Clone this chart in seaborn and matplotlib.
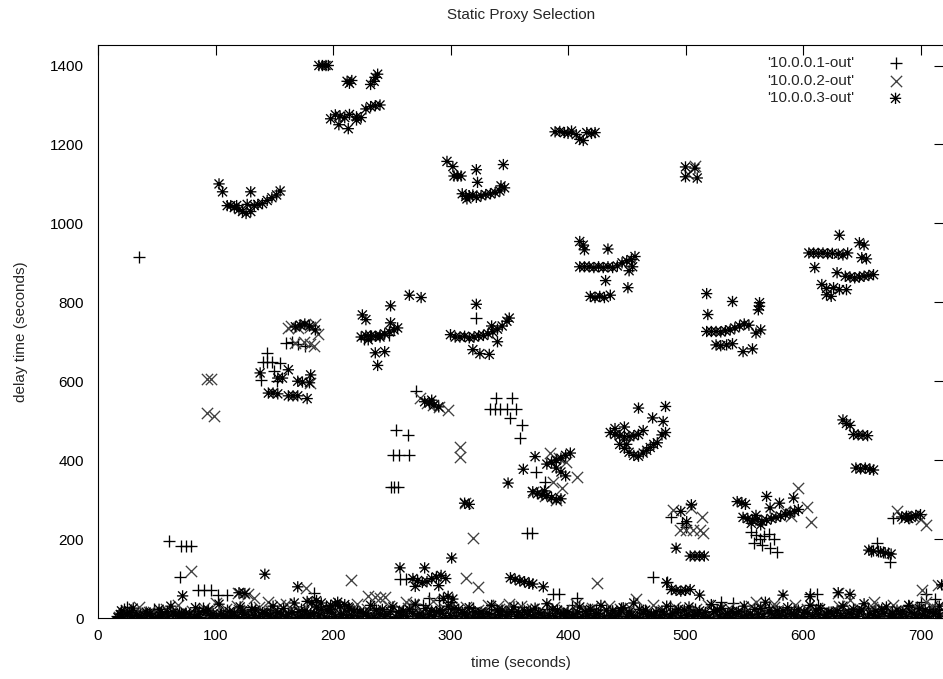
import matplotlib
matplotlib.use("Agg")
import matplotlib.pyplot as plt
import seaborn as sns
import pandas as pd
from matplotlib.path import Path

# ---------------- data (time [s], delay [s]) ----------------
series_names = ["'10.0.0.1-out'", "'10.0.0.2-out'", "'10.0.0.3-out'"]
x_ticks = [0, 100, 200, 300, 400, 500, 600, 700]
y_ticks = [0, 200, 400, 600, 800, 1000, 1200, 1400]

s1_points = [
    (35, 915),
    (144, 672), (140, 648), (144, 648), (148, 648), (155, 645), (139, 604), (150, 625), (152, 600),
    (160, 698), (165, 700), (170, 695), (176, 690),
    (226, 706), (232, 715), (248, 718),
    (254, 477), (264, 464), (251, 413), (256, 413), (265, 412), (249, 333), (252, 333), (255, 333),
    (271, 576), (322, 761),
    (339, 557), (352, 557), (334, 530), (338, 530), (342, 530), (348, 530), (356, 530), (351, 507), (361, 489), (359, 456),
    (373, 371), (388, 395), (380, 345), (365, 215), (369, 215),
    (488, 257), (497, 240), (500, 230),
    (556, 219), (560, 210), (563, 200), (567, 208), (571, 212), (575, 200), (558, 190), (565, 185), (572, 178), (578, 168),
    (677, 254), (663, 190), (658, 170), (664, 170), (668, 168), (672, 165), (674, 142),
    (60, 196), (71, 183), (75, 183), (79, 183), (70, 104), (85, 71), (90, 71), (96, 71), (102, 58), (110, 58),
    (25, 29), (22, 22), (28, 20), (184, 63), (257, 99), (262, 99), (282, 50), (290, 45), (300, 40),
    (387, 61), (392, 61), (408, 51), (472, 104), (484, 91), (530, 40), (540, 38), (606, 62), (612, 60),
    (700, 40), (705, 60), (712, 48), (690, 30), (715, 20),
]
s1_base = [
    (16, 4), (19, 12), (23, 2), (27, 6), (31, 1), (36, 9), (40, 3), (45, 5), (49, 2), (54, 14), (58, 4), (63, 7),
    (67, 1), (72, 10), (77, 3), (81, 6), (86, 18), (91, 2), (95, 8), (99, 4), (104, 11), (108, 1), (113, 6),
    (117, 3), (122, 15), (127, 5), (131, 2), (136, 8), (141, 4), (146, 20), (150, 1), (155, 7), (159, 3),
    (164, 12), (169, 5), (173, 2), (178, 9), (183, 4), (187, 16), (192, 1), (197, 6), (201, 3), (206, 10),
    (211, 2), (215, 7), (220, 24), (225, 4), (229, 1), (234, 8), (239, 3), (243, 13), (248, 5), (253, 2),
    (258, 9), (262, 4), (267, 17), (272, 1), (276, 6), (281, 3), (286, 11), (290, 5), (295, 2), (300, 28),
    (304, 4), (309, 7), (314, 1), (318, 12), (323, 3), (328, 6), (332, 2), (337, 9), (342, 4), (347, 15),
    (351, 1), (356, 5), (361, 3), (365, 10), (370, 2), (375, 7), (379, 4), (384, 13), (389, 1), (393, 6),
    (398, 3), (403, 9), (407, 5), (412, 2), (417, 18), (422, 4), (426, 1), (431, 8), (436, 3), (440, 12),
    (445, 5), (450, 2), (454, 7), (459, 4), (464, 14), (468, 1), (473, 6), (478, 3), (482, 10), (487, 5),
    (492, 2), (496, 8), (501, 4), (506, 16), (510, 1), (515, 6), (520, 3), (525, 11), (529, 5), (534, 2),
    (539, 9), (543, 4), (548, 20), (553, 1), (557, 7), (562, 3), (567, 12), (571, 5), (576, 2), (581, 9),
    (585, 4), (590, 15), (595, 1), (600, 6), (604, 3), (609, 10), (614, 2), (618, 7), (623, 4), (628, 13),
    (632, 1), (637, 6), (642, 3), (646, 9), (651, 5), (656, 2), (660, 17), (665, 4), (670, 1), (674, 8),
    (679, 3), (684, 12), (688, 5), (693, 2), (698, 9), (703, 4), (707, 22), (712, 1), (717, 6),
    (28, 16), (48, 22), (69, 18), (89, 26), (110, 20), (130, 28), (152, 18), (173, 24), (194, 30),
    (214, 20), (235, 26), (256, 18), (277, 32), (298, 22), (319, 26), (340, 18), (361, 28), (382, 22),
    (403, 34), (424, 20), (445, 26), (466, 18), (487, 30), (508, 22), (529, 26), (550, 18), (571, 28),
    (592, 22), (613, 34), (634, 20), (655, 26), (676, 18), (697, 28), (716, 22),
]

s2_points = [
    (93, 605), (96, 605), (93, 520), (99, 511),
    (164, 740), (170, 735), (175, 742), (180, 738), (185, 745), (187, 720), (162, 735),
    (175, 700), (180, 695), (184, 688), (168, 697), (180, 596),
    (274, 557), (280, 545), (285, 540), (290, 535), (298, 528),
    (308, 434), (308, 408), (312, 291), (319, 203), (313, 101), (323, 79),
    (385, 418), (392, 405), (398, 395), (408, 357), (370, 320), (380, 310), (390, 300), (395, 330), (387, 345),
    (489, 274), (505, 280), (495, 223), (500, 223), (506, 223), (512, 223), (515, 215), (514, 257),
    (502, 1125), (508, 1145),
    (596, 330), (603, 282), (607, 244), (585, 270), (590, 258),
    (680, 270), (705, 236), (686, 254), (694, 258), (700, 250),
    (715, 84), (701, 71), (630, 64),
    (79, 120), (119, 64), (124, 64), (128, 60), (177, 76), (215, 96), (244, 54), (425, 89), (458, 48),
    (230, 56), (236, 52), (240, 50), (133, 50), (145, 40), (160, 35), (262, 40), (268, 35), (340, 30),
    (350, 35), (420, 25), (560, 40), (575, 35), (640, 45), (660, 40), (700, 25), (710, 30),
]
s2_base = [
    (18, 2), (22, 7), (26, 3), (30, 10), (34, 1), (38, 5), (43, 14), (47, 2), (52, 6), (56, 3), (61, 9), (65, 1),
    (70, 12), (74, 4), (79, 7), (84, 2), (88, 16), (93, 5), (97, 1), (102, 8), (106, 3), (111, 11), (115, 4),
    (120, 20), (125, 2), (129, 6), (134, 1), (139, 9), (143, 3), (148, 13), (152, 5), (157, 2), (162, 8),
    (166, 4), (171, 18), (176, 1), (180, 6), (185, 3), (190, 10), (194, 2), (199, 7), (203, 4), (208, 15),
    (213, 1), (217, 5), (222, 3), (227, 9), (231, 2), (236, 12), (241, 4), (245, 7), (250, 1), (255, 10),
    (259, 3), (264, 25), (269, 5), (273, 2), (278, 8), (283, 4), (287, 14), (292, 1), (297, 6), (301, 3),
    (306, 11), (311, 2), (315, 7), (320, 4), (325, 16), (329, 1), (334, 5), (339, 3), (344, 9), (348, 2),
    (353, 13), (358, 4), (362, 6), (367, 1), (372, 10), (376, 3), (381, 7), (386, 5), (390, 19), (395, 2),
    (400, 8), (404, 4), (409, 12), (414, 1), (418, 6), (423, 3), (428, 9), (432, 5), (437, 2), (442, 14),
    (446, 4), (451, 7), (456, 1), (460, 11), (465, 3), (470, 6), (474, 2), (479, 16), (484, 5), (488, 1),
    (493, 8), (498, 4), (502, 12), (507, 2), (512, 7), (516, 3), (521, 10), (526, 5), (530, 1), (535, 15),
    (540, 4), (544, 6), (549, 2), (554, 9), (558, 3), (563, 13), (568, 1), (572, 7), (577, 4), (582, 11),
    (586, 2), (591, 6), (596, 3), (600, 18), (605, 5), (610, 1), (614, 8), (619, 4), (624, 12), (628, 2),
    (633, 7), (638, 3), (642, 10), (647, 5), (652, 1), (656, 14), (661, 4), (666, 6), (670, 2), (675, 9),
    (680, 3), (684, 13), (689, 1), (694, 7), (698, 4), (703, 11), (708, 2), (712, 16), (717, 5),
    (24, 20), (35, 28), (47, 16), (58, 24), (68, 32), (80, 18), (90, 26), (100, 38), (109, 22), (118, 30),
    (127, 15), (137, 28), (146, 20), (155, 34), (164, 24), (173, 16), (183, 30), (192, 22), (201, 26),
    (211, 18), (220, 35), (229, 24), (239, 16), (248, 30), (257, 22), (267, 28), (276, 18), (285, 42),
    (295, 24), (304, 16), (313, 28), (323, 20), (332, 34), (341, 22), (351, 18), (360, 30), (369, 24),
    (379, 16), (388, 28), (397, 20), (407, 36), (416, 24), (425, 18), (435, 30), (444, 22), (453, 26),
    (463, 16), (472, 34), (481, 20), (491, 28), (500, 18), (509, 24), (519, 32), (528, 20), (537, 26),
    (547, 16), (556, 30), (565, 22), (575, 28), (584, 18), (593, 34), (603, 22), (612, 26), (621, 16),
    (631, 30), (640, 24), (649, 18), (659, 28), (668, 22), (677, 34), (687, 18), (696, 26), (705, 40), (714, 22),
]

s3_points = [
    # ~1400
    (188, 1400), (191, 1400), (194, 1400), (196, 1400),
    (212, 1360), (214, 1355), (216, 1362), (232, 1352), (235, 1360), (238, 1378), (236, 1370),
    (198, 1265), (202, 1275), (206, 1272), (210, 1268), (214, 1276), (220, 1262), (224, 1268),
    (228, 1290), (232, 1296), (236, 1298), (240, 1300), (205, 1250), (213, 1240), (220, 1270),
    # ~1050
    (103, 1100), (106, 1080), (110, 1045), (113, 1045), (116, 1040), (120, 1035), (123, 1030),
    (126, 1025), (130, 1030), (133, 1045), (136, 1048), (140, 1050), (144, 1058), (148, 1065),
    (152, 1072), (155, 1082), (130, 1080), (118, 1045), (127, 1048),
    (297, 1157), (302, 1144), (303, 1120), (306, 1120), (309, 1120), (322, 1136), (323, 1104), (345, 1149),
    (310, 1075), (313, 1068), (316, 1070), (319, 1072), (322, 1066), (326, 1070), (330, 1073),
    (334, 1075), (338, 1078), (342, 1082), (346, 1090), (343, 1095), (314, 1062),
    (389, 1232), (393, 1233), (397, 1230), (400, 1228), (403, 1234), (407, 1225), (410, 1213),
    (413, 1210), (416, 1230), (420, 1228), (423, 1230),
    (500, 1143), (508, 1140), (500, 1118), (510, 1115),
    # ~900
    (605, 925), (609, 925), (613, 924), (617, 925), (621, 923), (625, 924), (630, 922), (634, 920),
    (638, 925), (631, 970), (648, 951), (652, 945), (650, 913), (654, 910), (610, 888), (629, 875),
    (636, 866), (640, 864), (644, 862), (648, 864), (652, 866), (656, 868), (660, 870), (616, 845),
    (620, 835), (626, 837), (631, 832), (637, 832), (620, 819), (624, 815),
    (410, 954), (413, 945), (414, 933), (434, 935), (410, 890), (414, 890), (418, 890), (422, 888),
    (426, 890), (430, 888), (434, 890), (438, 888), (442, 892), (446, 900), (450, 905), (454, 908),
    (457, 916), (452, 880), (455, 890), (432, 855), (451, 837), (419, 815), (423, 812), (427, 815),
    (431, 812), (436, 818),
    # ~750
    (518, 822), (519, 769), (540, 802), (563, 799), (562, 781), (563, 790), (518, 726), (522, 726),
    (526, 726), (530, 725), (534, 728), (538, 730), (542, 735), (546, 740), (550, 745), (554, 742),
    (560, 722), (564, 730), (526, 692), (530, 690), (535, 692), (540, 695), (549, 675), (557, 682),
    (322, 795), (335, 740), (300, 718), (304, 712), (308, 712), (312, 714), (316, 710), (320, 712),
    (324, 715), (328, 716), (332, 720), (336, 725), (340, 732), (344, 740), (348, 752), (350, 760),
    (319, 680), (325, 670), (333, 668), (340, 700),
    (168, 738), (172, 742), (176, 745), (180, 740), (185, 730),
    (224, 712), (228, 716), (232, 715), (236, 714), (240, 716), (244, 720), (248, 725), (252, 730),
    (255, 735), (249, 791), (225, 768), (228, 756), (249, 748), (236, 672), (238, 640), (244, 675),
    (230, 705), (240, 712), (265, 818), (275, 812),
    # ~600
    (138, 621), (153, 608), (157, 608), (162, 629), (170, 600), (174, 598), (181, 616), (180, 596),
    (145, 570), (149, 570), (153, 568), (162, 563), (166, 563), (170, 563), (178, 556),
    (278, 548), (282, 545), (286, 540), (290, 535), (284, 552),
    # ~450
    (460, 532), (483, 536), (472, 507), (481, 498), (480, 464), (483, 470), (436, 470), (440, 465),
    (444, 462), (448, 459), (452, 460), (456, 462), (460, 465), (464, 475), (440, 480), (448, 484),
    (444, 440), (448, 430), (452, 420), (456, 412), (460, 410), (464, 418), (467, 425), (470, 432),
    (473, 440), (476, 444), (450, 440),
    (634, 502), (637, 493), (640, 488), (643, 465), (647, 464), (651, 463), (655, 462),
    (645, 380), (649, 378), (653, 380), (657, 377), (660, 375),
    # ~350
    (349, 342), (362, 377), (372, 409), (382, 390), (386, 395), (390, 400), (394, 405), (398, 412),
    (402, 418), (390, 380), (394, 370), (398, 360), (370, 320), (374, 315), (378, 312), (382, 310),
    (386, 305), (390, 300), (394, 302), (380, 322), (312, 291), (316, 288),
    # ~250
    (544, 295), (548, 292), (551, 288), (549, 255), (553, 252), (557, 248), (561, 250), (565, 245),
    (569, 248), (573, 252), (577, 255), (581, 258), (585, 262), (589, 266), (593, 270), (596, 275),
    (569, 308), (572, 279), (580, 291), (592, 304), (560, 260), (556, 240), (564, 236),
    (505, 287), (501, 244), (492, 177), (504, 157), (508, 157), (512, 157), (516, 157), (496, 270),
    (684, 256), (688, 258), (692, 255), (696, 260), (700, 262), (690, 252),
    (656, 172), (660, 170), (666, 168), (670, 165), (675, 162),
    # low scattered
    (72, 56), (142, 111), (170, 79), (178, 42), (182, 40), (186, 44), (190, 38), (198, 32), (202, 35),
    (206, 30), (210, 34), (213, 28), (257, 127), (278, 127), (268, 100), (272, 95), (276, 90),
    (280, 92), (284, 100), (288, 104), (292, 108), (296, 100), (301, 152), (270, 80), (290, 82),
    (351, 102), (355, 98), (359, 94), (363, 92), (367, 88), (370, 86), (379, 79),
    (484, 89), (488, 72), (492, 70), (496, 68), (500, 70), (504, 72), (512, 58),
    (583, 58), (606, 54), (630, 64), (120, 64), (125, 62), (294, 50), (298, 55), (302, 48),
    (718, 84), (640, 60),
]
s3_base = [
    (17, 1), (21, 5), (25, 9), (29, 3), (33, 7), (37, 2), (42, 11), (46, 4), (51, 1), (55, 8), (60, 3),
    (64, 13), (69, 5), (73, 2), (78, 9), (82, 4), (87, 1), (92, 15), (96, 6), (101, 3), (105, 10), (110, 2),
    (114, 7), (119, 4), (123, 18), (128, 1), (133, 6), (137, 3), (142, 12), (147, 5), (151, 2), (156, 9),
    (160, 4), (165, 14), (170, 1), (174, 7), (179, 3), (184, 11), (188, 5), (193, 2), (198, 22), (202, 4),
    (207, 8), (212, 1), (216, 6), (221, 3), (226, 13), (230, 5), (235, 2), (240, 10), (244, 4), (249, 16),
    (254, 1), (258, 7), (263, 3), (268, 12), (272, 5), (277, 2), (282, 9), (286, 4), (291, 19), (296, 1),
    (300, 6), (305, 3), (310, 14), (314, 5), (319, 2), (324, 8), (328, 4), (333, 11), (338, 1), (342, 7),
    (347, 3), (352, 17), (356, 5), (361, 2), (366, 9), (370, 4), (375, 13), (380, 1), (384, 6), (389, 3),
    (394, 10), (398, 5), (403, 2), (408, 15), (412, 4), (417, 7), (422, 1), (426, 11), (431, 3), (436, 6),
    (440, 2), (445, 20), (450, 4), (454, 8), (459, 1), (464, 12), (468, 3), (473, 6), (478, 2), (482, 9),
    (487, 5), (492, 14), (496, 1), (501, 7), (506, 3), (510, 10), (515, 4), (520, 2), (524, 16), (529, 5),
    (534, 8), (538, 1), (543, 12), (548, 3), (552, 6), (557, 2), (562, 9), (566, 4), (571, 18), (576, 1),
    (580, 7), (585, 3), (590, 11), (594, 5), (599, 2), (604, 13), (608, 4), (613, 8), (618, 1), (622, 15),
    (627, 3), (632, 6), (636, 2), (641, 10), (646, 4), (650, 20), (655, 1), (660, 7), (664, 3), (669, 12),
    (674, 5), (678, 2), (683, 9), (688, 4), (692, 14), (697, 1), (702, 7), (706, 3), (711, 11), (716, 5),
    (20, 18), (30, 25), (41, 15), (52, 22), (62, 30), (71, 12), (83, 26), (94, 20), (103, 35), (112, 16),
    (121, 28), (131, 22), (140, 14), (149, 30), (158, 24), (167, 38), (176, 18), (186, 28), (195, 20),
    (204, 40), (214, 25), (223, 15), (232, 32), (242, 22), (251, 28), (260, 18), (270, 35), (279, 24),
    (288, 16), (298, 30), (307, 22), (316, 26), (326, 15), (335, 32), (344, 20), (354, 28), (363, 18),
    (372, 25), (382, 36), (391, 20), (400, 15), (410, 28), (419, 22), (428, 32), (438, 18), (447, 26),
    (456, 38), (466, 20), (475, 15), (484, 30), (494, 22), (503, 28), (512, 18), (522, 34), (531, 24),
    (540, 16), (550, 30), (559, 22), (568, 40), (578, 18), (587, 26), (596, 20), (606, 32), (615, 24),
    (624, 15), (634, 30), (643, 22), (652, 36), (662, 18), (671, 28), (680, 20), (690, 32), (699, 24),
    (708, 16), (716, 30),
    (19, 9), (27, 14), (35, 6), (44, 10), (53, 7), (59, 16), (66, 8), (75, 12), (85, 9), (90, 18),
    (98, 11), (107, 7), (116, 13), (125, 9), (134, 20), (144, 10), (153, 14), (162, 8), (171, 16),
    (181, 11), (190, 22), (199, 13), (209, 9), (218, 18), (228, 12), (237, 20), (246, 9), (256, 15),
    (265, 21), (274, 10), (284, 18), (293, 12), (303, 24), (312, 10), (321, 16), (331, 12), (340, 20),
    (349, 9), (358, 14), (368, 18), (377, 10), (387, 22), (396, 12), (405, 8), (415, 16), (424, 11),
    (433, 20), (443, 10), (452, 15), (461, 22), (471, 9), (480, 17), (489, 12), (499, 20), (508, 9),
    (517, 14), (527, 21), (536, 11), (545, 16), (555, 10), (564, 24), (573, 12), (583, 18), (592, 9),
    (601, 15), (611, 20), (620, 10), (629, 18), (639, 12), (648, 16), (657, 10), (667, 22), (676, 12),
    (685, 17), (695, 10), (704, 20), (713, 12),
]


def frame(points):
    return pd.DataFrame(points, columns=["time", "delay"])


df1 = frame(s1_points + s1_base)
df2 = frame(s2_points + s2_base)
df3 = frame(s3_points + s3_base)

# ---------------- style ----------------
sns.set_style("white")
plt.rcParams["font.family"] = ["Liberation Sans", "DejaVu Sans"]
plt.rcParams["font.size"] = 11

fig = plt.figure(figsize=(9.43, 6.79), dpi=100)
W, H = 943.0, 679.0
left, right, top, bottom = 98, 944, 45, 618
ax = fig.add_axes([left / W, 1 - bottom / H, (right - left) / W, (bottom - top) / H])

# gnuplot-like asterisk: "+" overlaid with "x"
d = 0.8
asterisk = Path([(-1, 0), (1, 0), (0, -1), (0, 1), (-d, -d), (d, d), (-d, d), (d, -d)],
                [Path.MOVETO, Path.LINETO] * 4)

msize = 66
lw = 0.95
sns.scatterplot(data=df1, x="time", y="delay", marker="+", s=msize, color="black",
                linewidth=lw, ax=ax, label=series_names[0])
sns.scatterplot(data=df2, x="time", y="delay", marker="x", s=msize, color="#404040",
                linewidth=lw, ax=ax, label=series_names[1])
sns.scatterplot(data=df3, x="time", y="delay", marker=asterisk, s=msize, color="black",
                facecolor="none", edgecolor="black", linewidth=lw, ax=ax, label=series_names[2])

ax.set_xlim(0, 720)
ax.set_ylim(0, 1452)
ax.set_xticks(x_ticks)
ax.set_yticks(y_ticks)
ax.tick_params(direction="in", length=7, width=0.8, top=True, right=True,
               labelsize=11, colors="black")
ax.tick_params(axis="x", pad=8)
ax.tick_params(axis="y", pad=10)
for sp in ax.spines.values():
    sp.set_visible(True)
    sp.set_color("black")
    sp.set_linewidth(0.8)

ax.set_xlabel("time (seconds)", fontsize=11, labelpad=9)
ax.set_ylabel("delay time (seconds)", fontsize=11, labelpad=16)
ax.set_title("Static Proxy Selection", fontsize=11, pad=19)

leg = ax.legend(loc="upper right", bbox_to_anchor=(0.968, 0.992), borderaxespad=0,
                markerfirst=False, frameon=False, fontsize=11, scatterpoints=1,
                handletextpad=1.7, labelspacing=0.25, handlelength=2.0)

fig.savefig("out.png", dpi=100)
